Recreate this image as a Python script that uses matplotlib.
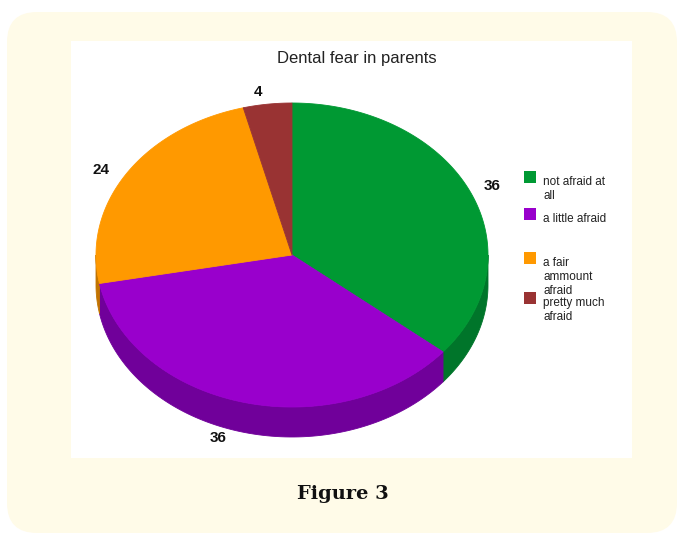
import numpy as np
import matplotlib
matplotlib.use("Agg")
import matplotlib.pyplot as plt
from matplotlib.patches import FancyBboxPatch, Rectangle

# data
labels = ["not afraid at\nall", "a little afraid", "a fair\nammount\nafraid", "pretty much\nafraid"]
values = [36, 36, 24, 4]
colors = ["#009933", "#9900cc", "#ff9900", "#993333"]
side_colors = ["#00752a", "#70009a", "#c27400", "#722626"]
title = "Dental fear in parents"
caption = "Figure 3"

# layout, in pixels
W, H = 677, 533
cx, cy = 292, 255      # centre of the top face
rx, ry = 196, 152      # radii of the top ellipse
depth = 30             # thickness of the pie

fig = plt.figure(figsize=(W / 100, H / 100), dpi=100)
fig.patch.set_facecolor("white")
ax = fig.add_axes([0, 0, 1, 1])
ax.set_xlim(0, W)
ax.set_ylim(H, 0)
ax.axis("off")

# cream frame and white chart area
ax.add_patch(FancyBboxPatch((7, 12), W - 7, H - 12, boxstyle="round,pad=0,rounding_size=30",
                            fc="#fffbe8", ec="none", zorder=0))
ax.add_patch(Rectangle((71, 41), 561, 417, fc="white", ec="none", zorder=1))


def ellipse_pt(t, dy=0.0):
    # t in degrees, clockwise from the top
    r = np.radians(t)
    return cx + rx * np.sin(r), cy - ry * np.cos(r) + dy


# angles of the wedges
fracs = np.array(values) / np.sum(values)
bounds = np.concatenate([[0], np.cumsum(fracs) * 360])

# side walls first (only the front half, 90..270 deg, is visible)
for i in range(len(values)):
    t0, t1 = max(bounds[i], 90), min(bounds[i + 1], 270)
    if t1 <= t0:
        continue
    ts = np.linspace(t0, t1, 100)
    xs_top, ys_top = ellipse_pt(ts)
    xs_bot, ys_bot = ellipse_pt(ts[::-1], depth)
    ax.fill(np.concatenate([xs_top, xs_bot]), np.concatenate([ys_top, ys_bot]),
            color=side_colors[i], lw=0.6, ec=side_colors[i], zorder=2)

# top face
for i in range(len(values)):
    ts = np.linspace(bounds[i], bounds[i + 1], 200)
    xs, ys = ellipse_pt(ts)
    ax.fill(np.concatenate([[cx], xs]), np.concatenate([[cy], ys]),
            color=colors[i], lw=0.6, ec=colors[i], zorder=3)

# value labels outside the wedges
label_pos = [(492, 186), (218, 438), (101, 170), (258, 92)]
for (lx, ly), v in zip(label_pos, values):
    ax.text(lx, ly, str(v), ha="center", va="center", fontsize=11, fontweight="bold",
            family="Liberation Sans", color="#111111", zorder=4)

ax.text(357, 58, title, ha="center", va="center", fontsize=12,
        family="Liberation Sans", color="#222222", zorder=4)

# legend
leg_y = [171, 208, 252, 292]
for y, lab, c in zip(leg_y, labels, colors):
    ax.add_patch(Rectangle((524, y), 12, 12, fc=c, ec="none", zorder=4))
    ax.text(543, y + 5, lab, ha="left", va="top", fontsize=8.5, linespacing=1.2,
            family="Liberation Sans", color="#222222", zorder=4)

ax.text(343, 494, caption, ha="center", va="center", fontsize=14, fontweight="bold",
        family="DejaVu Serif", color="#111111", zorder=4)

fig.savefig("out.png", dpi=100, facecolor="white")
